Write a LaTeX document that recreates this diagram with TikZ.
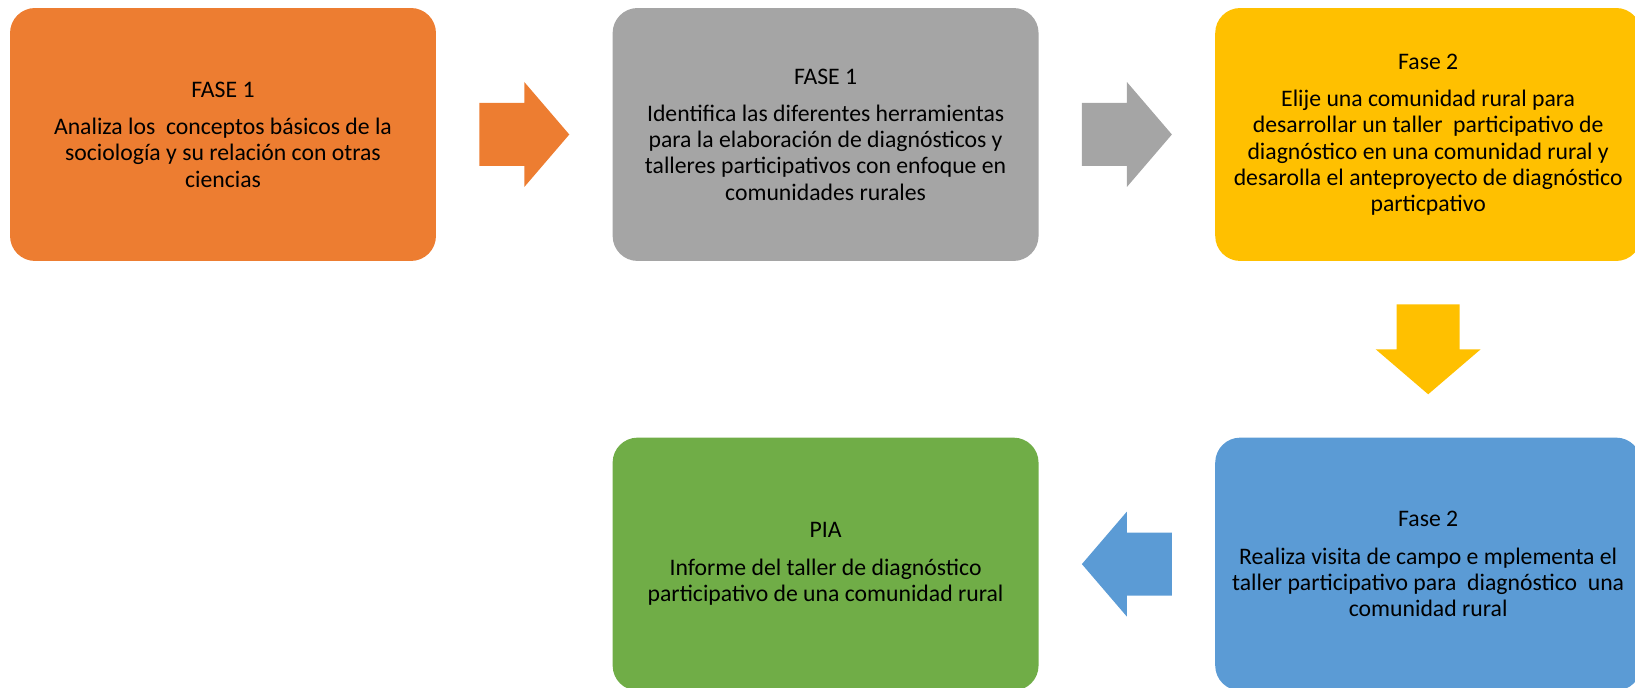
\documentclass[tikz,border=0pt]{standalone}
\usepackage{fontspec}
\setmainfont{Carlito}
\usetikzlibrary{positioning,calc}

\definecolor{faseorange}{HTML}{ED7D31}
\definecolor{fasegray}{HTML}{A5A5A5}
\definecolor{faseyellow}{HTML}{FFC000}
\definecolor{faseblue}{HTML}{5B9BD5}
\definecolor{fasegreen}{HTML}{70AD47}

\begin{document}
\begin{tikzpicture}[
  x=0.02cm, y=0.02cm,
  node distance=3.52cm,
  every node/.style={font=\fontsize{13.5}{14.9}\selectfont, align=center},
  box/.style={rounded corners=0.5cm, minimum width=8.52cm, minimum height=5.06cm, inner sep=0pt},
  flecha/.pic={\fill (-45,-31.5) -- (0,-31.5) -- (0,-52.5) -- (45,0) -- (0,52.5) -- (0,31.5) -- (-45,31.5) -- cycle;}
]
\useasboundingbox (0,0) rectangle (1635,688);

\node[box, fill=faseorange] (fase1a) at (223,553.5) {FASE 1\\[6.5pt]Analiza los\ \ conceptos básicos de la\\sociología y su relación con otras\\ciencias};
\node[box, fill=fasegray, right=of fase1a] (fase1b) {FASE 1\\[6.5pt]Identifica las diferentes herramientas\\para la elaboración de diagnósticos y\\talleres participativos con enfoque en\\comunidades rurales};
\node[box, fill=faseyellow, right=of fase1b] (fase2a) {Fase 2\\[6.5pt]Elije una comunidad rural para\\desarrollar un taller\ \ participativo de\\diagnóstico en una comunidad rural y\\desarolla el anteproyecto de diagnóstico\\particpativo};
\node[box, fill=faseblue, below=of fase2a] (fase2b) {Fase 2\\[6.5pt]Realiza visita de campo e mplementa el\\taller participativo para\ \ diagnóstico\ \ una\\comunidad rural};
\node[box, fill=fasegreen, left=of fase2b] (pia) {PIA\\[6.5pt]Informe del taller de diagnóstico\\participativo de una comunidad rural};

% block arrows between the boxes
\coordinate (m1) at ($(fase1a.east)!0.5!(fase1b.west)$);
\coordinate (m2) at ($(fase1b.east)!0.5!(fase2a.west)$);
\coordinate (m3) at ($(fase2a.south)!0.5!(fase2b.north)$);
\coordinate (m4) at ($(fase2b.west)!0.5!(pia.east)$);
\pic[color=faseorange] at (m1) {flecha};
\pic[color=fasegray] at (m2) {flecha};
\pic[color=faseyellow, rotate=-90] at (m3) {flecha};
\pic[color=faseblue, rotate=180] at (m4) {flecha};

\end{tikzpicture}
\end{document}
